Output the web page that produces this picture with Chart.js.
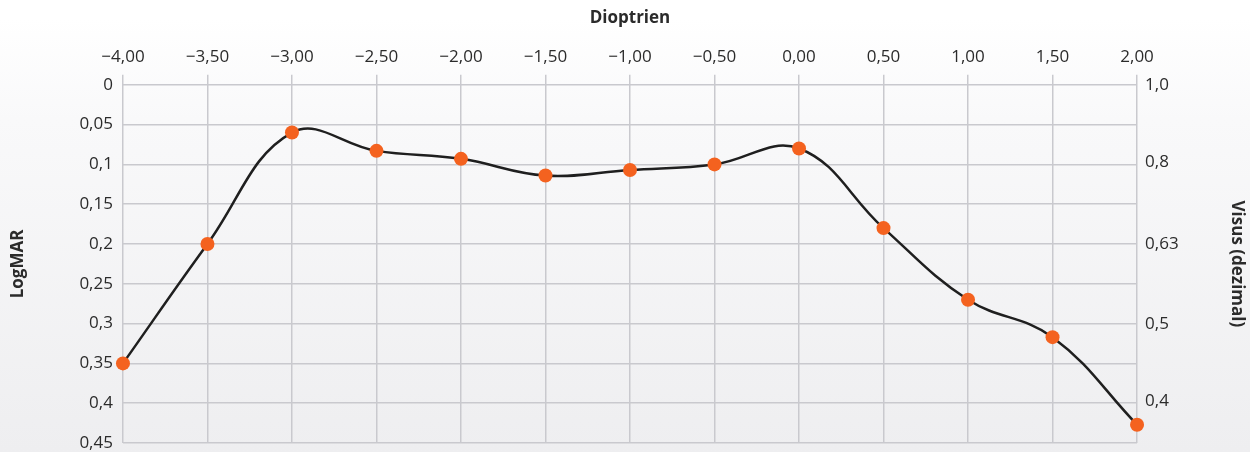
<!DOCTYPE html>
<html>
<head>
<meta charset="utf-8">
<script src="https://cdn.jsdelivr.net/npm/chart.js@4/dist/chart.umd.min.js"></script>
<style>
html,body{margin:0;padding:0;}
body{width:1250px;height:452px;background:linear-gradient(to bottom,#ffffff 0px,#ffffff 18px,#f9f9fa 120px,#eeeef0 452px);}
#wrap{width:1250px;height:452px;position:relative;}
</style>
</head>
<body>
<div id="wrap"><canvas id="c" width="1250" height="452"></canvas></div>
<script>
// Data
const diopters = [-4.0, -3.5, -3.0, -2.5, -2.0, -1.5, -1.0, -0.5, 0.0, 0.5, 1.0, 1.5, 2.0];
const logMAR = [0.35, 0.20, 0.06, 0.083, 0.093, 0.114, 0.107, 0.10, 0.08, 0.18, 0.27, 0.317, 0.427];
const xTickLabels = ['\u22124,00','\u22123,50','\u22123,00','\u22122,50','\u22122,00','\u22121,50','\u22121,00','\u22120,50','0,00','0,50','1,00','1,50','2,00'];
const yTickLabels = ['0','0,05','0,1','0,15','0,2','0,25','0,3','0,35','0,4','0,45'];
const visusValues = [1.0, 0.8, 0.63, 0.5, 0.4];
const visusLabels = ['1,0','0,8','0,63','0,5','0,4'];

const FONT = "'Open Sans', 'DejaVu Sans', sans-serif";
const TXT = '#2b2b2b';
const GRID = '#c9c9ce';
const TICKFONT = {family: FONT, size: 17};
const YTICKFONT = {family: FONT, size: 17, lineHeight: 1.0};
const TITLEFONT = {family: FONT, size: 17, weight: 'bold'};

new Chart(document.getElementById('c'), {
  type: 'line',
  data: {
    datasets: [{
      data: diopters.map((d, i) => ({x: d, y: logMAR[i]})),
      borderColor: '#1f1f1f',
      borderWidth: 2.5,
      tension: 0.4,
      pointRadius: 7,
      pointHoverRadius: 7,
      pointBackgroundColor: '#f4621f',
      pointBorderColor: '#f4621f',
      pointBorderWidth: 0,
      fill: false,
      clip: false
    }]
  },
  options: {
    responsive: false,
    animation: false,
    layout: {autoPadding: false, padding: {left: 0, right: 0, top: 0, bottom: 9}},
    plugins: {legend: {display: false}, tooltip: {enabled: false}},
    scales: {
      x: {
        type: 'linear', position: 'top', min: -4, max: 2,
        afterBuildTicks: (axis) => { axis.ticks = diopters.map(v => ({value: v})); },
        ticks: {
          callback: (v, i) => xTickLabels[i],
          color: TXT, font: TICKFONT, padding: 7, maxRotation: 0, autoSkip: false
        },
        grid: {color: GRID, lineWidth: 1.5, tickLength: 10, drawTicks: true},
        border: {display: false},
        title: {display: true, text: 'Dioptrien', color: TXT, font: TITLEFONT, padding: {top: 8, bottom: 12}}
      },
      y: {
        type: 'linear', position: 'left', reverse: true, min: 0, max: 0.45,
        afterBuildTicks: (axis) => { axis.ticks = yTickLabels.map((l, i) => ({value: i * 0.05})); },
        ticks: {
          callback: (v, i) => yTickLabels[i],
          color: TXT, font: YTICKFONT, padding: 0, autoSkip: false
        },
        grid: {color: GRID, lineWidth: 1.5, drawTicks: true, tickLength: 10, tickColor: 'rgba(0,0,0,0)'},
        border: {display: false},
        title: {display: true, text: 'LogMAR', color: TXT, font: TITLEFONT, padding: {top: 8, bottom: 51}}
      },
      y2: {
        type: 'linear', position: 'right', reverse: true, min: 0, max: 0.45,
        afterBuildTicks: (axis) => { axis.ticks = visusValues.map(v => ({value: -Math.log10(v)})); },
        ticks: {
          callback: (v, i) => visusLabels[i],
          color: TXT, font: YTICKFONT, padding: 0, autoSkip: false
        },
        grid: {display: true, drawOnChartArea: false, drawTicks: true, tickLength: 8, tickColor: 'rgba(0,0,0,0)'},
        border: {display: false},
        title: {display: true, text: 'Visus (dezimal)', color: TXT, font: TITLEFONT, padding: {top: 3, bottom: 48}}
      }
    }
  }
});
</script>
</body>
</html>
